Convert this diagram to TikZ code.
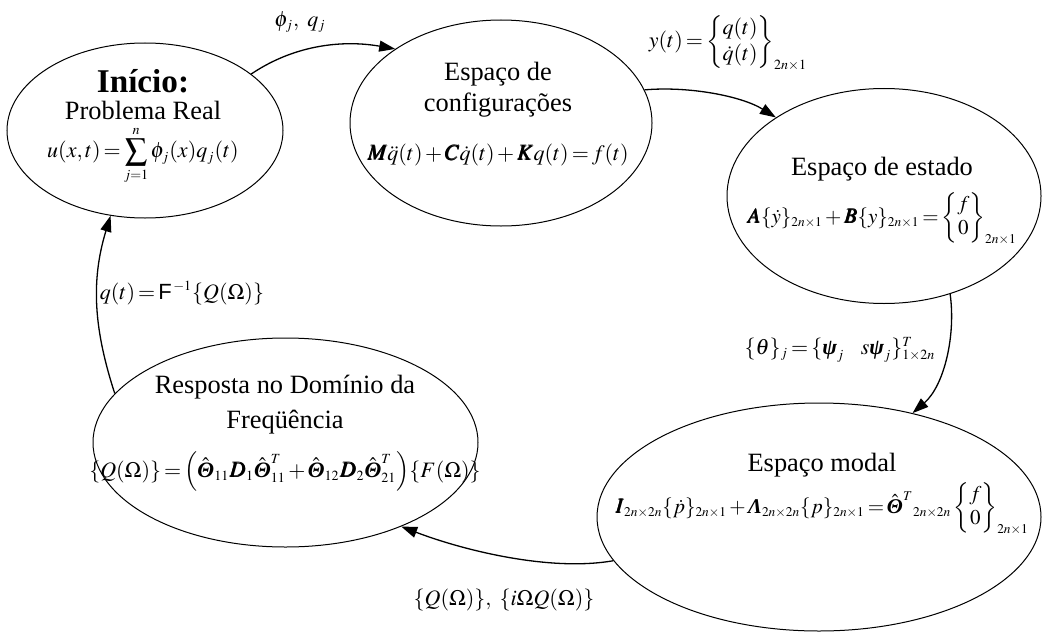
\documentclass[tikz,border=0pt]{standalone}
\usepackage{amsmath}
\usepackage{mathptmx}
\usepackage[no-math]{fontspec}
\setmainfont{Liberation Serif}
\newfontfamily\arialfont{Liberation Sans}
\usepackage{bm}
\usetikzlibrary{arrows.meta,shapes.geometric,positioning}
\DeclareMathSizes{11}{11}{7}{5}
\DeclareMathSizes{10.5}{10.5}{6.7}{5}
\newcommand{\eqsize}{\fontsize{11}{13}\selectfont\medmuskip=2mu\thickmuskip=2.5mu}
\newcommand{\eqsmall}{\fontsize{10.5}{12}\selectfont\medmuskip=2mu\thickmuskip=2.5mu}
\newcommand{\bTheta}{\text{\bfseries\itshape Θ}}
\newcommand{\bLambda}{\text{\bfseries\itshape Λ}}
\newcommand{\bpsi}{\text{\bfseries\itshape ψ}}
\tikzset{
  state/.style={
    ellipse,
    draw=black,
    line width=0.5pt,
    inner sep=0pt
  },
  statetext/.style={
    align=center,
    inner sep=0pt,
    font=\fontsize{13.2}{15.5}\selectfont
  },
  flowlabel/.style={
    inner sep=1pt,
    font=\eqsize
  },
  flow/.style={
    -{Triangle[length=8pt,width=5.5pt]},
    line width=0.65pt
  }
}

\begin{document}
\begin{tikzpicture}[x=0.5pt,y=0.5pt]
\useasboundingbox (0,0) rectangle (1042,-631);

% The five states of the solution cycle.
\node[state, minimum width=138pt, minimum height=87.5pt] (inicio) at (145,-130.5) {};
\node[state, minimum width=151pt, minimum height=103pt] (config) at (501,-123) {};
\node[state, minimum width=157pt, minimum height=107.5pt] (estado) at (884,-196) {};
\node[state, minimum width=222pt, minimum height=114pt] (modal) at (819,-517) {};
\node[state, minimum width=192.5pt, minimum height=104.5pt] (resposta) at (285.5,-442.5) {};

% Texts of the states.
\node[statetext] (inicio text) at (143,-127) {
  {\fontsize{16.6}{19}\selectfont\bfseries Início:}\\[-2pt]
  Problema Real\\[2pt]
  {\eqsize$\displaystyle u(x,t)=\sum_{j=1}^{n}\phi_j(x)q_j(t)$}
};
\node[statetext] (config text) at (498,-114) {
  Espaço de\\
  configurações\\[9pt]
  {\eqsize$\bm{M}\ddot{q}(t)+\bm{C}\dot{q}(t)+\bm{K}q(t)=f(t)$}
};
\node[statetext] (estado text) at (882,-201) {
  Espaço de estado\\[5pt]
  {\eqsmall$\bm{A}\{\dot{y}\}_{2n\times1}+\bm{B}\{y\}_{2n\times1}
   =\begin{Bmatrix}f\\0\end{Bmatrix}_{2n\times1}$}
};
\node[statetext] (resposta text) at (285,-433) {
  Resposta no Domínio da\\[2pt]
  Freqüência\\[9pt]
  {\eqsize$\{Q(\Omega)\}=\left(\hat{\bTheta}_{11}\bm{D}_1\hat{\bTheta}_{11}^T
   +\hat{\bTheta}_{12}\bm{D}_2\hat{\bTheta}_{21}^T\right)\!\{F(\Omega)\}$}
};
\node[statetext] (modal text) at (822,-494) {
  Espaço modal\\[2pt]
  {\eqsmall
   $\bm{I}_{2n\times2n}\{\dot{p}\}_{2n\times1}+\bLambda_{2n\times2n}\{p\}_{2n\times1}
   =\hat{\bTheta}^{T}{}_{2n\times2n}\begin{Bmatrix}f\\0\end{Bmatrix}_{2n\times1}$}
};

% Transitions between the states.
\draw[flow] (inicio.28) .. controls +(34:55) and +(170:50) .. (config.145);
\draw[flow] (config.13) .. controls +(5:45) and +(148:40) .. (estado.144);
\draw[flow] (estado.304) .. controls +(-82:42) and +(41:42) .. (modal.48);
\draw[flow] (modal.192) .. controls +(190:65) and +(-21:65) .. (resposta.324);
\draw[flow] (resposta.164) .. controls +(108:68) and +(253:68) .. (inicio.248);

% Labels of the transitions.
\node[flowlabel] (phi label) at (300,-22) {$\phi_j,\ q_j$};
\node[flowlabel] (y label) at (728,-43)
  {$y(t)=\begin{Bmatrix}q(t)\\\dot{q}(t)\end{Bmatrix}_{2n\times1}$};
\node[flowlabel] (theta label) at (840,-350)
  {$\{\theta\}_j=\{\bpsi_j\enspace\ s\bpsi_j\}^T_{1\times2n}$};
\node[flowlabel] (Q label) at (504,-600)
  {$\{Q(\Omega)\},\ \{i\Omega Q(\Omega)\}$};
\node[flowlabel] (q label) at (182,-293)
  {$q(t)=\text{\arialfont F}^{\,-1}\{Q(\Omega)\}$};
\end{tikzpicture}
\end{document}
